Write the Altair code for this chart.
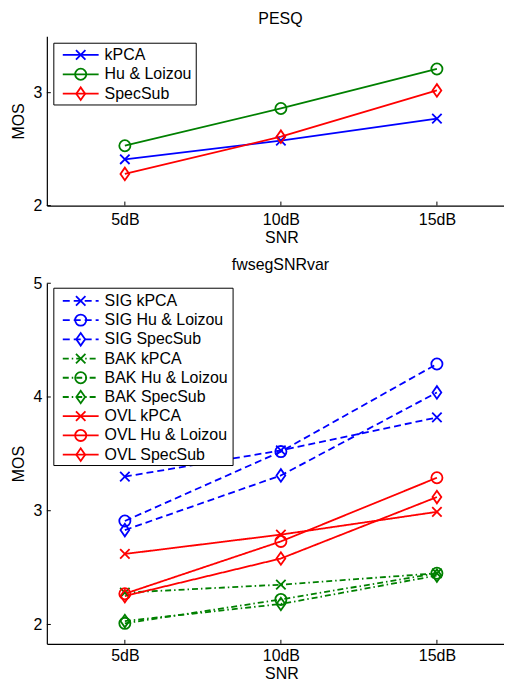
import altair as alt
import pandas as pd

# ---------------- data ----------------
snr_labels = ["5dB", "10dB", "15dB"]
snr_index = [1, 2, 3]

methods = ["kPCA", "Hu & Loizou", "SpecSub"]

# PESQ panel
pesq_kpca = [2.41, 2.575, 2.77]
pesq_hu = [2.53, 2.86, 3.21]
pesq_specsub = [2.28, 2.61, 3.02]

# fwsegSNRvar panel
metrics = ["SIG", "BAK", "OVL"]
sig_kpca = [3.30, 3.53, 3.82]
sig_hu = [2.91, 3.52, 4.29]
sig_specsub = [2.83, 3.31, 4.04]
bak_kpca = [2.28, 2.35, 2.45]
bak_hu = [2.01, 2.22, 2.45]
bak_specsub = [2.03, 2.18, 2.43]
ovl_kpca = [2.62, 2.79, 2.99]
ovl_hu = [2.27, 2.73, 3.29]
ovl_specsub = [2.25, 2.58, 3.12]

pesq_ticks = [2, 3]
fw_ticks = [2, 3, 4, 5]

# ---------------- styling ----------------
FONT = "Liberation Sans"
FS = 16
SW = 1.8
X_PATH = "M-1,-1L1,1M-1,1L1,-1"
DIAMOND_PATH = "M-0.7,0L0,-1L0.7,0L0,1Z"

W = 459
H_TOP = 170
H_BOT = 362

xscale = alt.Scale(domain=[0.5, 3.43], nice=False, zero=False)
shape_scale = alt.Scale(domain=methods, range=[X_PATH, "circle", DIAMOND_PATH])
size_scale = alt.Scale(domain=methods, range=[90, 160, 324])
label_expr = "[" + ",".join("'%s'" % s for s in snr_labels) + "][datum.value - 1]"


def x_axis(label_pad=6, title_y=32):
    return alt.Axis(values=snr_index, labelExpr=label_expr, title="SNR", grid=False,
                    ticks=False, tickSize=0, labelPadding=label_pad, titleX=W / 2 + 6, titleY=title_y,
                    titleBaseline="middle", titleAnchor="middle")


def y_axis(vals):
    return alt.Axis(values=vals, format="d", title="MOS", grid=False, ticks=False,
                    tickSize=0, labelPadding=5, titlePadding=7)


# ---------------- top panel ----------------
rows = []
for m, vals in zip(methods, [pesq_kpca, pesq_hu, pesq_specsub]):
    for i, v in zip(snr_index, vals):
        rows.append({"method": m, "snr_idx": i, "value": v})
top_df = pd.DataFrame(rows)

top_color = alt.Scale(domain=methods, range=["#0000ff", "#008000", "#ff0000"])
top_y = alt.Scale(domain=[2, 3.5], nice=False, zero=False)
top_xax = x_axis()

top_base = alt.Chart(top_df).encode(
    x=alt.X("snr_idx:Q", scale=xscale, axis=top_xax),
    y=alt.Y("value:Q", scale=top_y, axis=y_axis(pesq_ticks)),
    color=alt.Color("method:N", scale=top_color, legend=None),
)
top_lines = top_base.mark_line(strokeWidth=SW)
top_points = top_base.mark_point(filled=False, strokeWidth=SW, opacity=1).encode(
    shape=alt.Shape("method:N", scale=shape_scale, legend=None),
    size=alt.Size("method:N", scale=size_scale, legend=None),
)

xt_df = pd.DataFrame({"snr_idx": snr_index})
top_xticks = alt.Chart(xt_df).mark_rule(color="black", strokeWidth=1).encode(
    x=alt.X("snr_idx:Q", scale=xscale, axis=top_xax),
    y=alt.value(H_TOP), y2=alt.value(H_TOP - 4))
top_yticks = alt.Chart(pd.DataFrame({"value": pesq_ticks})).mark_rule(color="black", strokeWidth=1).encode(
    y=alt.Y("value:Q", scale=top_y, axis=y_axis(pesq_ticks)), x=alt.value(0), x2=alt.value(4))

top_leg_df = pd.DataFrame({"label": methods, "method": methods, "i": list(range(len(methods)))})
top_leg = alt.Chart(top_leg_df).transform_calculate(ly="18.7 + datum.i * 19.5")
top_box = alt.Chart(pd.DataFrame({"k": [0]})).mark_rect(fill="white", stroke="black", strokeWidth=1).encode(
    x=alt.value(7), x2=alt.value(150), y=alt.value(7), y2=alt.value(69))
top_leg_rule = top_leg.mark_rule(strokeWidth=SW).encode(
    x=alt.value(16), x2=alt.value(52), y=alt.Y("ly:Q", scale=None),
    color=alt.Color("method:N", scale=top_color, legend=None))
top_leg_pt = top_leg.mark_point(filled=False, strokeWidth=SW, opacity=1).encode(
    x=alt.value(34), y=alt.Y("ly:Q", scale=None),
    color=alt.Color("method:N", scale=top_color, legend=None),
    shape=alt.Shape("method:N", scale=shape_scale, legend=None),
    size=alt.Size("method:N", scale=size_scale, legend=None))
top_leg_txt = top_leg.mark_text(align="left", baseline="middle", fontSize=FS, font=FONT, color="black").encode(
    x=alt.value(58), y=alt.Y("ly:Q", scale=None), text="label:N")

top_chart = alt.layer(
    top_lines, top_points, top_xticks, top_yticks, top_box, top_leg_rule, top_leg_pt, top_leg_txt
).properties(
    width=W, height=H_TOP,
    title=alt.TitleParams("PESQ", fontSize=FS, fontWeight="normal", font=FONT, color="black",
                          offset=9, dx=5, frame="group", anchor="middle"),
)

# ---------------- bottom panel ----------------
rows = []
series_vals = {
    ("SIG", "kPCA"): sig_kpca, ("SIG", "Hu & Loizou"): sig_hu, ("SIG", "SpecSub"): sig_specsub,
    ("BAK", "kPCA"): bak_kpca, ("BAK", "Hu & Loizou"): bak_hu, ("BAK", "SpecSub"): bak_specsub,
    ("OVL", "kPCA"): ovl_kpca, ("OVL", "Hu & Loizou"): ovl_hu, ("OVL", "SpecSub"): ovl_specsub,
}
leg_rows = []
k = 0
for met in metrics:
    for m in methods:
        lab = met + " " + m
        for i, v in zip(snr_index, series_vals[(met, m)]):
            rows.append({"metric": met, "method": m, "series": lab, "snr_idx": i, "value": v})
        leg_rows.append({"label": lab, "metric": met, "method": m, "i": k})
        k += 1
bot_df = pd.DataFrame(rows)
bot_leg_df = pd.DataFrame(leg_rows)

bot_color = alt.Scale(domain=metrics, range=["#0000ff", "#008000", "#ff0000"])
bot_dash = alt.Scale(domain=metrics, range=[[7, 4], [6, 3, 1.5, 3], [1, 0]])
bot_y = alt.Scale(domain=[1.83, 5], nice=False, zero=False)
bot_xax = x_axis(label_pad=4, title_y=30)

bot_base = alt.Chart(bot_df).encode(
    x=alt.X("snr_idx:Q", scale=xscale, axis=bot_xax),
    y=alt.Y("value:Q", scale=bot_y, axis=y_axis(fw_ticks)),
    color=alt.Color("metric:N", scale=bot_color, legend=None),
)
bot_lines = bot_base.mark_line(strokeWidth=SW).encode(
    strokeDash=alt.StrokeDash("metric:N", scale=bot_dash, legend=None),
    detail="series:N")
bot_points = bot_base.mark_point(filled=False, strokeWidth=SW, opacity=1).encode(
    shape=alt.Shape("method:N", scale=shape_scale, legend=None),
    size=alt.Size("method:N", scale=size_scale, legend=None),
    detail="series:N")

bot_xticks = alt.Chart(xt_df).mark_rule(color="black", strokeWidth=1).encode(
    x=alt.X("snr_idx:Q", scale=xscale, axis=bot_xax),
    y=alt.value(H_BOT), y2=alt.value(H_BOT - 4))
bot_yticks = alt.Chart(pd.DataFrame({"value": fw_ticks})).mark_rule(color="black", strokeWidth=1).encode(
    y=alt.Y("value:Q", scale=bot_y, axis=y_axis(fw_ticks)), x=alt.value(0), x2=alt.value(4))

bot_leg = alt.Chart(bot_leg_df).transform_calculate(ly="17.7 + datum.i * 19.3")
bot_box = alt.Chart(pd.DataFrame({"k": [0]})).mark_rect(fill="white", stroke="black", strokeWidth=1).encode(
    x=alt.value(7), x2=alt.value(187), y=alt.value(5), y2=alt.value(183))
bot_leg_rule = bot_leg.mark_rule(strokeWidth=SW).encode(
    x=alt.value(16), x2=alt.value(52), y=alt.Y("ly:Q", scale=None),
    color=alt.Color("metric:N", scale=bot_color, legend=None),
    strokeDash=alt.StrokeDash("metric:N", scale=bot_dash, legend=None))
bot_leg_pt = bot_leg.mark_point(filled=False, strokeWidth=SW, opacity=1).encode(
    x=alt.value(34), y=alt.Y("ly:Q", scale=None),
    color=alt.Color("metric:N", scale=bot_color, legend=None),
    shape=alt.Shape("method:N", scale=shape_scale, legend=None),
    size=alt.Size("method:N", scale=size_scale, legend=None))
bot_leg_txt = bot_leg.mark_text(align="left", baseline="middle", fontSize=FS, font=FONT, color="black").encode(
    x=alt.value(58), y=alt.Y("ly:Q", scale=None), text="label:N")

bot_chart = alt.layer(
    bot_lines, bot_points, bot_xticks, bot_yticks, bot_box, bot_leg_rule, bot_leg_pt, bot_leg_txt
).properties(
    width=W, height=H_BOT,
    title=alt.TitleParams("fwsegSNRvar", fontSize=FS, fontWeight="normal", font=FONT, color="black",
                          offset=2, dx=5, frame="group", anchor="middle"),
)

chart = alt.vconcat(top_chart, bot_chart, spacing=12).properties(
    padding={"left": 2, "top": 2, "right": 0, "bottom": 0}
).configure_view(stroke=None).configure_axis(
    domainColor="black", domainWidth=1.2, labelColor="black", titleColor="black",
    labelFont=FONT, titleFont=FONT, labelFontSize=FS, titleFontSize=FS, titleFontWeight="normal",
)

chart.save("out.html", embed_options={"renderer": "svg", "actions": False})
